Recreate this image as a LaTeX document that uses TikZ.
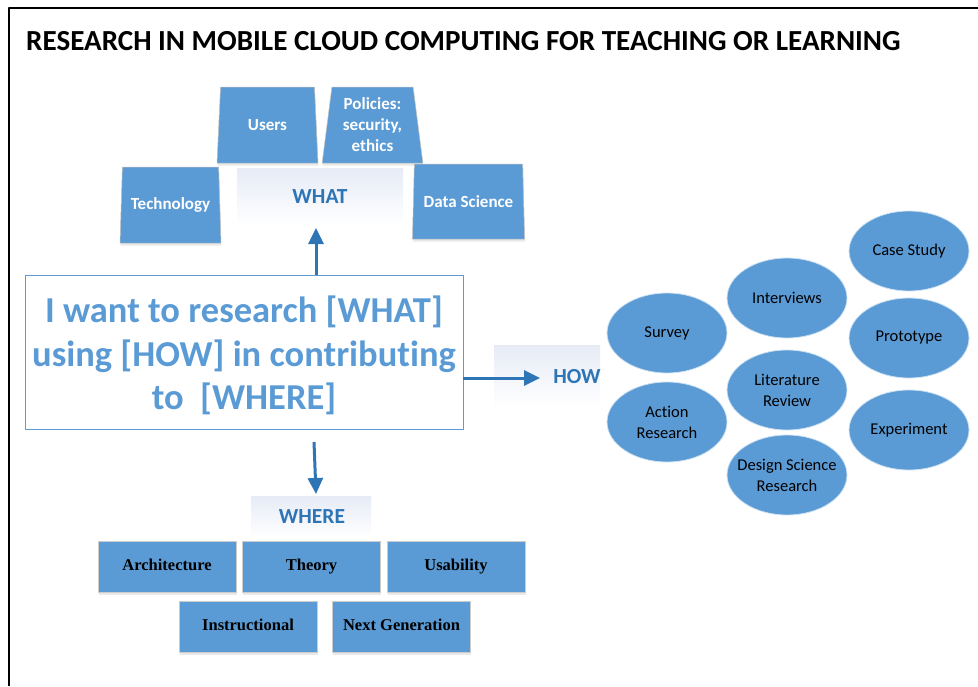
\documentclass[tikz,border=0pt]{standalone}
\usepackage{fontspec}
\setmainfont{Carlito}[Ligatures=NoCommon]
\newfontfamily\timesfont{Liberation Serif}
\usetikzlibrary{shapes.geometric,arrows.meta,shadows}
\definecolor{boxblue}{HTML}{5B9BD5}
\definecolor{arrowblue}{HTML}{2E75B6}
\definecolor{fadeblue}{HTML}{E6EBF6}
\begin{document}
\begin{tikzpicture}[x=1pt, y=-1pt, line join=round, >={Triangle[length=16pt,width=15pt]},
	softshadow/.style={drop shadow={shadow xshift=0.5pt, shadow yshift=-2.5pt, fill=black!25, opacity=0.35}},
	whatitem/.style={trapezium, trapezium angle=82.5, trapezium stretches=true, minimum width=101pt, minimum height=76pt, inner sep=0pt, fill=boxblue, draw=white!75!black, line width=0.5pt, text=white, align=center, font=\bfseries\fontsize{17}{21}\selectfont, softshadow},
	howitem/.style={ellipse, minimum width=120pt, minimum height=80pt, inner sep=-12pt, fill=boxblue, draw=white!70!boxblue, line width=0.8pt, align=center, font=\fontsize{16.5}{21}\selectfont},
	whereitem/.style={rectangle, minimum width=138pt, minimum height=51pt, text height=11.5pt, text depth=3.5pt, fill=boxblue, draw=black!20, line width=0.6pt, font=\timesfont\bfseries\fontsize{16.5}{18}\selectfont, softshadow},
	labelbg/.style={rectangle, inner sep=0pt, shading angle=45, top color=fadeblue, bottom color=white},
	labeltxt/.style={text=arrowblue, font=\bfseries\fontsize{21.5}{24}\selectfont},
	arrowline/.style={->, line width=3pt, draw=arrowblue}]
	\useasboundingbox (0,0) rectangle (978,686);
	% frame and title
	\draw[line width=2pt] (9,686) -- (9,7.5) -- (978,7.5);
	\node[anchor=base west, inner sep=0pt, font=\bfseries\fontsize{29.1}{32}\selectfont] (title) at (26,50) {RESEARCH IN MOBILE CLOUD COMPUTING FOR TEACHING OR LEARNING};
	% WHAT
	\node[whatitem] (users) at (267.5,125) {Users};
	\node[whatitem] (policies) at (372.5,125) {Policies:\\ security,\\ ethics};
	\node[whatitem] (technology) at (170.5,205) {Technology};
	\node[whatitem, minimum width=113pt, minimum height=75pt] (datasci) at (468.5,201.5) {Data Science};
	\node[labelbg, minimum width=166pt, minimum height=57pt] (whatbg) at (320,196.5) {};
	\node[labeltxt] (what) at (320,196.5) {WHAT};
	% central statement
	\node[draw=boxblue, line width=0.8pt, minimum width=438pt, minimum height=154pt, align=center, text=boxblue, font=\bfseries\fontsize{36.5}{43.5}\selectfont] (idea) at (244,352) {\rule{0pt}{34pt}I want to research [WHAT]\\ using [HOW] in contributing\\ to\ \ [WHERE]};
	% HOW
	\node[labelbg, minimum width=106pt, minimum height=62pt] (howbg) at (547,376) {};
	\node[labeltxt] (how) at (577,377) {HOW};
	\node[howitem] (casestudy) at (909,251) {Case Study};
	\node[howitem] (interviews) at (787,298) {Interviews};
	\node[howitem] (survey) at (667,333) {Survey};
	\node[howitem] (prototype) at (909,338) {Prototype};
	\node[howitem] (litreview) at (787,390) {Literature\\ Review};
	\node[howitem] (action) at (667,422) {Action\\ Research};
	\node[howitem] (experiment) at (909,430) {Experiment};
	\node[howitem] (dsr) at (787,475) {Design Science\\ Research};
	% WHERE
	\node[labelbg, minimum width=120pt, minimum height=41pt] (wherebg) at (311,516.5) {};
	\node[labeltxt] (where) at (312,517) {WHERE};
	\node[whereitem] (architecture) at (167,566.5) {Architecture};
	\node[whereitem] (theory) at (311.5,566.5) {Theory};
	\node[whereitem] (usability) at (456,566.5) {Usability};
	\node[whereitem] (instructional) at (248,626.5) {Instructional};
	\node[whereitem] (nextgen) at (401.5,626.5) {Next Generation};
	% arrows
	\coordinate (whatTip) at (316,228);
	\coordinate (howTip) at (540,378);
	\coordinate (whereTail) at (314,442);
	\coordinate (whereTip) at (316,494);
	\draw[arrowline] (idea.north -| whatTip) -- (whatTip);
	\draw[arrowline] (idea.east |- howTip) -- (howTip);
	\draw[arrowline] (whereTail) -- (whereTip);
\end{tikzpicture}
\end{document}
